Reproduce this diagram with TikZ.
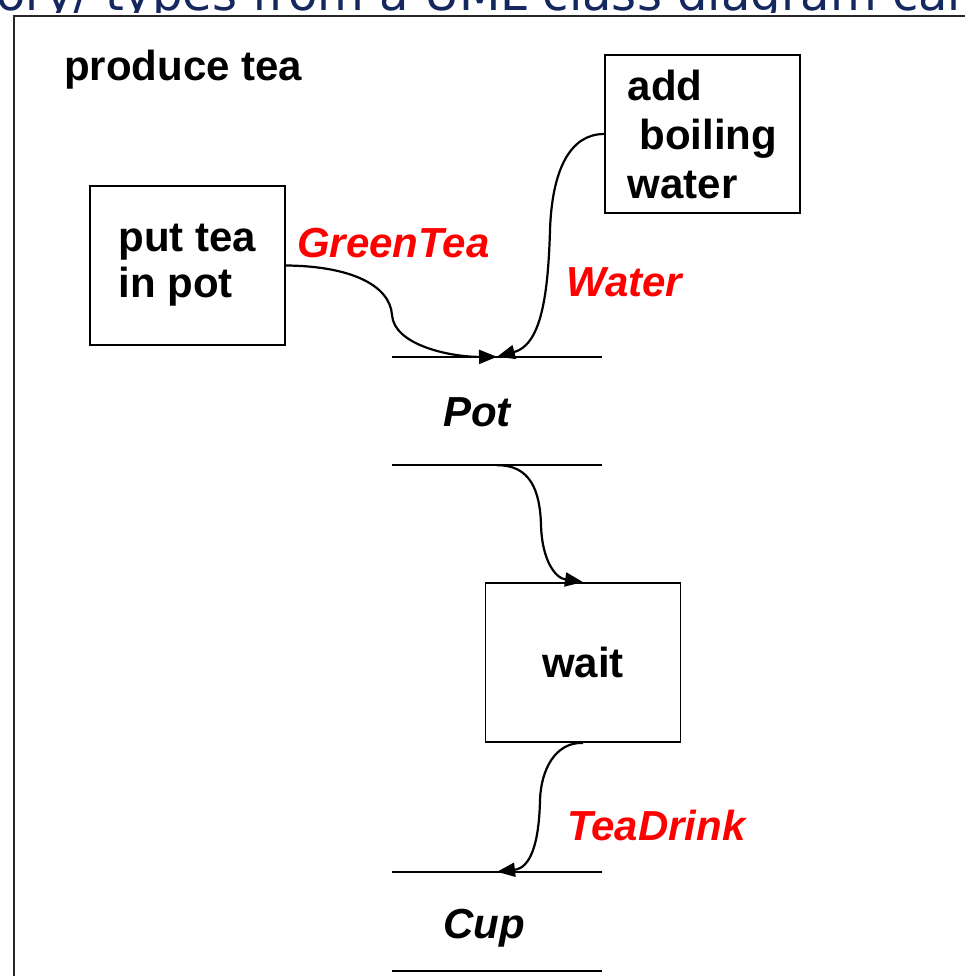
\documentclass[tikz,border=0pt]{standalone}
\usepackage{fontspec}
\setmainfont{Liberation Sans}
\newfontfamily\titlefont{DejaVu Sans}
\usetikzlibrary{arrows.meta}
\definecolor{navy}{RGB}{20,40,95}
\begin{document}
\begin{tikzpicture}[x=1pt,y=-1pt,
  act/.style={draw, line width=1.8pt, minimum width=195pt, minimum height=159pt, inner sep=0pt, font=\fontsize{42}{46}\selectfont\bfseries, align=left},
  objbox/.style={minimum width=210pt, inner sep=0pt},
  objlbl/.style={inner sep=0pt, font=\fontsize{42}{46}\selectfont\bfseries\itshape},
  flowlbl/.style={text=red, anchor=base west, inner sep=0pt, font=\fontsize{42}{46}\selectfont\bfseries\itshape},
  flow/.style={line width=2.2pt, -{Triangle[length=18pt,width=14pt]}},
  objline/.style={line width=2pt}]
\useasboundingbox (0,0) rectangle (965,976);
\begin{scope}
\clip (0,0) rectangle (965,13);
\node[anchor=base west, inner sep=0pt, text=navy, font=\titlefont\fontsize{48}{54}\selectfont] (title) at (-4,11) {ory/ types from a UML class diagram can};
\end{scope}
\clip (0,0) rectangle (965,976);
\draw[line width=2.5pt, black!85] (14,16) rectangle (1000,1000);

\node[anchor=base west, inner sep=0pt, font=\fontsize{42}{46}\selectfont\bfseries] (heading) at (64,81) {produce tea};

\node[act] (tea) at (187.5,265.5) {put tea\\in pot};
\node[act, minimum height=158pt, font=\fontsize{42}{49}\selectfont\bfseries] (add) at (702.5,134) {add\\\hspace*{0.28em}boiling\\water};
\node[act] (wait) at (583,662.5) {wait};

\node[objbox, minimum height=108pt] (pot) at (497,411) {};
\draw[objline] (pot.north west) -- (pot.north east) (pot.south west) -- (pot.south east);
\node[objlbl] (potlbl) at (477,412) {Pot};

\node[objbox, minimum height=99pt] (cup) at (497,921.5) {};
\draw[objline] (cup.north west) -- (cup.north east) (cup.south west) -- (cup.south east);
\node[objlbl] (cuplbl) at (484,928) {Cup};

\draw[flow] (tea.east) .. controls (350,266) and (390,285) .. (392,315) .. controls (394,345) and (450,357) .. (pot.north);
\draw[flow] (add.west) .. controls (570,134) and (552,170) .. (550,230) .. controls (548,300) and (540,345) .. (pot.north);
\draw[flow] (pot.south) .. controls (530,465) and (540,490) .. (541,525) .. controls (542,560) and (555,578) .. (wait.north);
\draw[flow] (wait.south) .. controls (555,742) and (541,770) .. (540,800) .. controls (539,845) and (530,868) .. (cup.north);

\node[flowlbl] (lgreen) at (297,257) {GreenTea};
\node[flowlbl] (lwater) at (566,296) {Water};
\node[flowlbl] (ldrink) at (567,840) {TeaDrink};
\end{tikzpicture}
\end{document}
